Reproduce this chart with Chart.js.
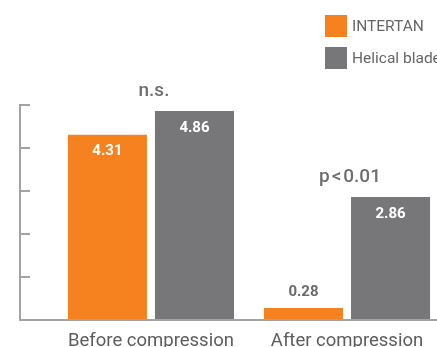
<!DOCTYPE html>
<html>
<head>
<meta charset="utf-8">
<script src="https://cdn.jsdelivr.net/npm/chart.js@4"></script>
<style>
  body { margin: 0; background: #fff; }
  #wrap { position: relative; width: 437px; height: 347px; overflow: hidden; }
  #legend { position: absolute; left: 325px; top: 15px; font-family: Roboto, sans-serif; font-size: 15.5px; color: #666; }
  #legend div { display: flex; align-items: center; height: 22px; margin-bottom: 10px; white-space: nowrap; }
  #legend span.box { width: 22px; height: 22px; margin-right: 5px; flex: none; }
</style>
</head>
<body>
<div id="wrap">
  <canvas id="chart" width="437" height="347"></canvas>
  <div id="legend"></div>
</div>
<script>
const categories = ["Before compression", "After compression"]
const intertanValues = [4.31, 0.28]
const helicalValues = [4.86, 2.86]
const sigLabels = ["n.s.", "p\u200a<\u200a0.01"]
const yTicks = [0, 1, 2, 3, 4, 5]

const orange = "#f5821f"
const grey = "#77777a"
const axisColor = "#a3a3a3"

// value labels + significance text, positioned from the bar elements
const barLabels = {
    id: "barLabels",
    afterDatasetsDraw(chart) {
        const ctx = chart.ctx;
        const metaA = chart.getDatasetMeta(0);
        const metaB = chart.getDatasetMeta(1);
        ctx.save();
        ctx.textAlign = "center";
        ctx.textBaseline = "middle";
        [metaA, metaB].forEach(meta => {
            meta.data.forEach((bar, i) => {
                const v = chart.data.datasets[meta.index].data[i].y;
                ctx.font = "bold 15px Roboto, sans-serif";
                if (v >= 1) {
                    ctx.fillStyle = "#fff";
                    ctx.fillText(v.toFixed(2), bar.x, bar.y + 17);
                } else {
                    ctx.fillStyle = "#6a6a6a";
                    ctx.fillText(v.toFixed(2), bar.x, bar.y - 16);
                }
            });
        });
        ctx.font = "500 19px Roboto, sans-serif";
        ctx.fillStyle = "#6e6e6e";
        categories.forEach((c, i) => {
            const x = chart.scales.x.getPixelForValue(i);
            const top = Math.min(metaA.data[i].y, metaB.data[i].y);
            ctx.fillText(sigLabels[i], x + 3, top - 20);
        });
        ctx.restore();
    }
}

const chartData = {
    datasets: [
        {
            label: "INTERTAN",
            backgroundColor: orange,
            data: intertanValues.map((v, i) => ({ x: i, y: v })),
        },
        {
            label: "Helical blade",
            backgroundColor: grey,
            data: helicalValues.map((v, i) => ({ x: i, y: v })),
        },
    ],
}

const chartConfig = {
    type: "bar",
    data: chartData,
    options: {
        responsive: false,
        animation: false,
        categoryPercentage: 0.888,
        barPercentage: 0.908,
        layout: { padding: { left: 20, top: 105, right: 0, bottom: 0 } },
        plugins: { legend: { display: false }, tooltip: { enabled: false } },
        scales: {
            x: {
                type: "linear",
                offset: false,
                min: -0.668,
                max: 1.459,
                afterBuildTicks: s => { s.ticks = categories.map((c, i) => ({ value: i })) },
                afterFit: s => { s.height = 27 },
                ticks: {
                    callback: v => categories[v],
                    color: "#5c5c5c",
                    font: { family: "Roboto, sans-serif", size: 18.5 },
                    padding: 10,
                    maxRotation: 0,
                    autoSkip: false,
                },
                grid: { display: false, drawTicks: false },
                border: { display: true, color: axisColor, width: 2 },
            },
            y: {
                min: 0,
                max: 5,
                afterBuildTicks: s => { s.ticks = yTicks.map(v => ({ value: v })) },
                afterFit: s => { s.width = 0 },
                ticks: { display: false },
                grid: { drawOnChartArea: false, drawTicks: true, tickLength: -10, color: axisColor, lineWidth: 2 },
                border: { display: true, color: axisColor, width: 2 },
            },
        },
    },
    plugins: [barLabels],
}

const chartCanvas = document.getElementById('chart')
const resultChart = new Chart(chartCanvas, chartConfig)

const legendBox = document.getElementById('legend')
resultChart.data.datasets.forEach(ds => {
    const row = document.createElement('div')
    row.innerHTML = `<span class="box" style="background:${ds.backgroundColor}"></span>${ds.label}`
    legendBox.appendChild(row)
})
</script>
</body>
</html>
